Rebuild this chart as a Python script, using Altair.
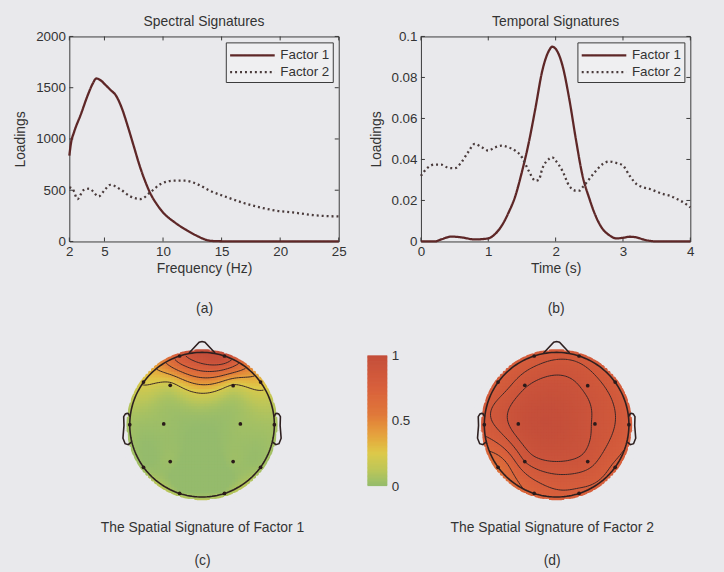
import numpy as np
import pandas as pd
import altair as alt

alt.data_transformers.disable_max_rows()

FONT = "Liberation Sans"
INK = "#333333"
FRAME = "#3a3a3a"
BG = "#e9e9ec"

# ---------------- spectral signatures ----------------
spec_freq_f1 = [2.0, 2.15, 2.4, 3.0, 3.55, 4.0, 4.3, 4.7, 5.0, 5.5, 6.0, 6.5, 7.0, 7.5,
                8.0, 8.5, 9.0, 9.5, 10.0, 11.0, 12.0, 13.0, 13.5, 14.0, 15.0, 17.0, 20.0, 25.0]
spec_load_f1 = [837, 965, 1065, 1245, 1420, 1540, 1590, 1570, 1537, 1480, 1420, 1295, 1120, 930,
                740, 580, 450, 358, 283, 186, 111, 49, 23, 7, 2, 1, 0, 0]
spec_freq_f2 = [2.0, 2.3, 2.7, 3.2, 3.7, 4.5, 5.0, 5.5, 6.4, 7.2, 8.1, 8.9, 9.8, 10.9,
                11.9, 12.9, 14.0, 15.5, 16.9, 18.3, 19.7, 21.1, 22.8, 25.0]
spec_load_f2 = [528, 510, 414, 500, 515, 440, 500, 553, 505, 440, 414, 479, 560, 593,
                593, 560, 495, 430, 375, 332, 300, 283, 257, 244]

# ---------------- temporal signatures ----------------
temp_time_f1 = [0.0, 0.2, 0.3, 0.45, 0.6, 0.8, 1.0, 1.1, 1.2, 1.3, 1.4, 1.5, 1.6, 1.7, 1.8,
                1.9, 1.95, 2.0, 2.1, 2.2, 2.3, 2.4, 2.5, 2.6, 2.7, 2.8, 2.9, 3.0, 3.1, 3.2,
                3.3, 3.4, 3.5, 4.0]
temp_load_f1 = [0.0, 0.0, 0.001, 0.0024, 0.002, 0.001, 0.0015, 0.0036, 0.0077, 0.014, 0.022,
                0.034, 0.048, 0.065, 0.083, 0.093, 0.095, 0.094, 0.086, 0.070, 0.050, 0.032,
                0.021, 0.012, 0.006, 0.003, 0.0015, 0.0018, 0.0023, 0.002, 0.001, 0.0003,
                0.0, 0.0]
temp_time_f2 = [0.0, 0.1, 0.2, 0.3, 0.4, 0.5, 0.6, 0.7, 0.8, 0.9, 1.0, 1.1, 1.2, 1.3, 1.4,
                1.5, 1.55, 1.6, 1.7, 1.75, 1.8, 1.9, 1.95, 2.0, 2.1, 2.2, 2.3, 2.35, 2.4,
                2.5, 2.6, 2.7, 2.8, 2.9, 3.0, 3.1, 3.2, 3.3, 3.4, 3.5, 3.6, 3.7, 3.8, 3.9, 4.0]
temp_load_f2 = [0.032, 0.036, 0.0375, 0.0375, 0.036, 0.0357, 0.0386, 0.0435, 0.0476, 0.046,
                0.0443, 0.0459, 0.0467, 0.0459, 0.0443, 0.041, 0.0378, 0.0345, 0.0296, 0.030,
                0.0353, 0.0402, 0.041, 0.0394, 0.0345, 0.0272, 0.0248, 0.0248, 0.0264, 0.0305,
                0.0345, 0.0378, 0.039, 0.0383, 0.037, 0.032, 0.028, 0.0264, 0.0256, 0.0243,
                0.0231, 0.0223, 0.0207, 0.019, 0.0166]

factor_names = ["Factor 1", "Factor 2"]
factor_colors = ["#5e2727", "#4a3b3b"]
factor_dashes = [[1, 0], [2, 3]]

spec_xticks = [2, 5, 10, 15, 20, 25]
spec_yticks = [0, 500, 1000, 1500, 2000]
temp_xticks = [0, 1, 2, 3, 4]
temp_yticks = [0, 0.02, 0.04, 0.06, 0.08, 0.1]

# ---------------- spatial signatures (16-channel 10-20 montage) ----------------
channels = ["Fp1", "Fp2", "F7", "F8", "F3", "F4", "T3", "T4",
            "C3", "C4", "T5", "T6", "P3", "P4", "O1", "O2"]
chan_x = [-0.31, 0.31, -0.81, 0.81, -0.44, 0.43, -1.0, 1.0,
          -0.53, 0.53, -0.81, 0.81, -0.44, 0.43, -0.31, 0.31]
chan_y = [0.95, 0.95, 0.59, 0.59, 0.545, 0.54, 0.0, 0.0,
          0.01, 0.01, -0.59, -0.59, -0.51, -0.51, -0.95, -0.95]
spatial_f1 = [0.8, 1.0, 0.24, 0.3, 0.17, 0.2, 0.05, 0.06,
              0.03, 0.04, 0.03, 0.04, 0.03, 0.03, 0.05, 0.05]
spatial_f2 = [0.80, 0.82, 0.79, 0.80, 0.90, 0.89, 0.82, 0.80,
              0.95, 0.90, 0.62, 0.76, 0.85, 0.88, 0.72, 0.76]
contour_levels_f1 = [0.22, 0.38, 0.54, 0.7, 0.86]
contour_levels_f2 = [0.7, 0.78, 0.85, 0.91]

# head outline pieces (unit head radius)
nose_x = [0.18, 0.04, 0.0, -0.04, -0.18]
nose_y = [0.9908, 1.14, 1.15, 1.14, 0.9908]
ear_x = [0.994, 1.02, 1.036, 1.0598, 1.0838, 1.08, 1.094, 1.064, 1.02, 0.978]
ear_y = [0.111, 0.155, 0.1566, 0.1492, 0.111, -0.011, -0.1864, -0.2626, -0.2768, -0.2398]

cmap_stops = [0.0, 0.12, 0.25, 0.4, 0.55, 0.75, 1.0]
cmap_colors = ["#95bb6c", "#bcc659", "#ddc94a", "#e5a03e", "#e0783a", "#d8603c", "#c44e3a"]
colorbar_ticks = [0, 0.5, 1]

# ---------------- layout (pixels) ----------------
LINE_W, LINE_H = 272, 207
K = 73.0                       # pixels per head radius
HEAD_TOP, HEAD_BOT, HEAD_CY = 335, 505, 425
A_LEFT = 68                    # left edge of the first plot area
HEAD1_CX, HEAD2_CX = 202, 560
CAP1_CX, CAP2_CX = 202, 555
CB_LEFT, CB_W, CB_TOP, CB_BOT = 369, 20, 355, 487
CB_LABELS = 23
SPACE_B = 40
HEAD1_RIGHT = CB_LEFT - SPACE_B
HEAD2_LEFT = CB_LEFT + CB_W + CB_LABELS + SPACE_B
HEAD2_RIGHT = 651
TICK_PX = 4

LABEL_FS = 13.5
TITLE_FS = 14

color_scale = alt.Scale(domain=cmap_stops, range=cmap_colors, clamp=True)


def line_panel(title, xs1, ys1, xs2, ys2, xticks, yticks, xtitle, caption, xfmt, yfmt):
    df = pd.concat([
        pd.DataFrame({"x": xs1, "y": ys1, "factor": factor_names[0]}),
        pd.DataFrame({"x": xs2, "y": ys2, "factor": factor_names[1]}),
    ], ignore_index=True)
    x0, x1 = xticks[0], xticks[-1]
    y0, y1 = yticks[0], yticks[-1]
    xsc = alt.Scale(domain=[x0, x1], nice=False, zero=False)
    ysc = alt.Scale(domain=[y0, y1], nice=False, zero=False)
    xaxis = alt.Axis(values=xticks, format=xfmt, title=[xtitle, caption], titlePadding=4,
                     titleLineHeight=40, labelPadding=3, ticks=False, domain=False, grid=False,
                     labelFlush=False)
    yaxis = alt.Axis(values=yticks, format=yfmt, title="Loadings", titlePadding=8,
                     labelPadding=4, ticks=False, domain=False, grid=False)

    # inward-pointing ticks on all four sides
    tx = (x1 - x0) * TICK_PX / LINE_W
    ty = (y1 - y0) * TICK_PX / LINE_H
    ticks = []
    for v in xticks:
        ticks.append((v, y0, v, y0 + ty))
        ticks.append((v, y1, v, y1 - ty))
    for v in yticks:
        ticks.append((x0, v, x0 + tx, v))
        ticks.append((x1, v, x1 - tx, v))
    tick_df = pd.DataFrame(ticks, columns=["x", "y", "xb", "yb"])
    tick_layer = alt.Chart(tick_df).mark_rule(color=FRAME, strokeWidth=1).encode(
        x=alt.X("x:Q", scale=xsc, axis=xaxis),
        y=alt.Y("y:Q", scale=ysc, axis=yaxis),
        x2="xb:Q", y2="yb:Q",
    )

    legend = alt.Legend(
        title=None, orient="top-right", offset=6, fillColor="#efeff1",
        strokeColor=FRAME, padding=3, symbolType="M-1,0H4.2", symbolSize=300,
        symbolStrokeWidth=2.3, labelFontSize=LABEL_FS, labelFont=FONT, labelColor=INK,
        rowPadding=0, labelOffset=32,
    )
    lines = alt.Chart(df).mark_line(strokeWidth=2.3, interpolate="monotone").encode(
        x=alt.X("x:Q", scale=xsc, axis=xaxis),
        y=alt.Y("y:Q", scale=ysc, axis=yaxis),
        color=alt.Color("factor:N", scale=alt.Scale(domain=factor_names, range=factor_colors),
                        legend=legend),
        strokeDash=alt.StrokeDash("factor:N",
                                  scale=alt.Scale(domain=factor_names, range=factor_dashes),
                                  legend=legend),
    )
    return alt.layer(tick_layer, lines).properties(
        width=LINE_W, height=LINE_H,
        title=alt.TitleParams(title, fontSize=TITLE_FS, fontWeight="normal", offset=1,
                              color=INK, font=FONT),
        view=alt.ViewBackground(stroke=FRAME, strokeWidth=1),
    )


def biharmonic(xe, ye, ve, xq, yq):
    pe = np.asarray(xe) + 1j * np.asarray(ye)
    d = np.abs(pe[:, None] - pe[None, :])
    g = np.where(d > 0, d ** 2 * (np.log(np.maximum(d, 1e-12)) - 1), 0.0)
    w = np.linalg.solve(g, np.asarray(ve, dtype=float))
    pq = np.asarray(xq) + 1j * np.asarray(yq)
    dq = np.abs(pq[:, None] - pe[None, :])
    gq = np.where(dq > 0, dq ** 2 * (np.log(np.maximum(dq, 1e-12)) - 1), 0.0)
    return gq @ w


def contour_segments(gx, gy, z, level):
    segs = []
    ny, nx = z.shape
    for i in range(ny - 1):
        for j in range(nx - 1):
            corners = [(gx[j], gy[i], z[i, j]), (gx[j + 1], gy[i], z[i, j + 1]),
                       (gx[j + 1], gy[i + 1], z[i + 1, j + 1]), (gx[j], gy[i + 1], z[i + 1, j])]
            pts = []
            for k in range(4):
                xa, ya, za = corners[k]
                xb, yb, zb = corners[(k + 1) % 4]
                if (za - level) * (zb - level) < 0:
                    t = (level - za) / (zb - za)
                    pts.append((xa + t * (xb - xa), ya + t * (yb - ya)))
            for a in range(0, len(pts) - 1, 2):
                segs.append((pts[a][0], pts[a][1], pts[a + 1][0], pts[a + 1][1]))
    return segs


def head_outline():
    th = np.linspace(0, 2 * np.pi, 181)
    parts = [pd.DataFrame({"x": np.cos(th), "y": np.sin(th), "part": "head"}),
             pd.DataFrame({"x": nose_x, "y": nose_y, "part": "nose"}),
             pd.DataFrame({"x": ear_x, "y": ear_y, "part": "ear_r"}),
             pd.DataFrame({"x": [-v for v in ear_x], "y": ear_y, "part": "ear_l"})]
    for p in parts:
        p["ord"] = np.arange(len(p))
    return pd.concat(parts, ignore_index=True)


def head_panel(values, levels, caption, letter, cx, cap_cx, left_px, right_px):
    xdom = [-(cx - left_px) / K, (right_px - cx) / K]
    ydom = [-(HEAD_BOT - HEAD_CY) / K, (HEAD_CY - HEAD_TOP) / K]
    xsc = alt.Scale(domain=xdom, nice=False, zero=False)
    ysc = alt.Scale(domain=ydom, nice=False, zero=False)
    xaxis = alt.Axis(labels=False, ticks=False, domain=False, grid=False,
                     title=[caption, letter], titleX=cap_cx - left_px, titleY=17,
                     titleAlign="center", titleBaseline="top", titleLineHeight=33,
                     titleFontSize=TITLE_FS)

    # interpolated surface, drawn as small cells
    step = 0.04
    g = np.arange(-1.08, 1.08 + 1e-9, step)
    gx, gy = np.meshgrid(g, g)
    gx, gy = gx.ravel(), gy.ravel()
    inside = gx ** 2 + gy ** 2 <= 1.045 ** 2
    gx, gy = gx[inside], gy[inside]
    v = np.clip(biharmonic(chan_x, chan_y, values, gx, gy), 0, 1)
    half = step / 2 + 0.006
    cells = pd.DataFrame({"x": gx - half, "xb": gx + half, "y": gy - half, "yb": gy + half,
                          "v": v})
    fill = alt.Chart(cells).mark_rect().encode(
        x=alt.X("x:Q", scale=xsc, axis=xaxis),
        x2="xb:Q",
        y=alt.Y("y:Q", scale=ysc, axis=None),
        y2="yb:Q",
        color=alt.Color("v:Q", scale=color_scale, legend=None),
    )

    # mask ring hiding the stepped rim of the cell grid
    th = np.linspace(0, 2 * np.pi, 181)
    ring = pd.DataFrame({"x": 1.1 * np.cos(th), "y": 1.1 * np.sin(th), "ord": np.arange(181)})
    mask = alt.Chart(ring).mark_line(color=BG, strokeWidth=8).encode(
        x=alt.X("x:Q", scale=xsc, axis=xaxis), y=alt.Y("y:Q", scale=ysc, axis=None),
        order="ord:Q")

    # contour lines
    cg = np.arange(-1.05, 1.05 + 1e-9, 0.025)
    cx_, cy_ = np.meshgrid(cg, cg)
    cz = biharmonic(chan_x, chan_y, values, cx_.ravel(), cy_.ravel()).reshape(cx_.shape)
    segs = []
    for lev in levels:
        segs += contour_segments(cg, cg, cz, lev)
    seg_df = pd.DataFrame(segs, columns=["x", "y", "xb", "yb"])
    seg_df = seg_df[(seg_df.x ** 2 + seg_df.y ** 2 <= 1.0) & (seg_df.xb ** 2 + seg_df.yb ** 2 <= 1.0)]
    contours = alt.Chart(seg_df).mark_rule(color="#3a2626", strokeWidth=1).encode(
        x=alt.X("x:Q", scale=xsc, axis=xaxis), y=alt.Y("y:Q", scale=ysc, axis=None),
        x2="xb:Q", y2="yb:Q")

    outline = alt.Chart(head_outline()).mark_line(color="#2e2020", strokeWidth=1.6).encode(
        x=alt.X("x:Q", scale=xsc, axis=xaxis), y=alt.Y("y:Q", scale=ysc, axis=None),
        detail="part:N", order="ord:Q")

    elec = pd.DataFrame({"x": chan_x, "y": chan_y, "ch": channels})
    dots = alt.Chart(elec).mark_circle(size=14, color="#2a1a1a", opacity=1).encode(
        x=alt.X("x:Q", scale=xsc, axis=xaxis), y=alt.Y("y:Q", scale=ysc, axis=None))

    return alt.layer(fill, mask, contours, outline, dots).properties(
        width=right_px - left_px, height=HEAD_BOT - HEAD_TOP)


def colorbar_panel():
    edges = np.linspace(0, 1, 101)
    cb = pd.DataFrame({"lo": edges[:-1], "hi": np.minimum(edges[1:] + 0.006, 1.0),
                       "mid": (edges[:-1] + edges[1:]) / 2})
    k = CB_BOT - CB_TOP
    ydom = [-(HEAD_BOT - CB_BOT) / k, 1 + (CB_TOP - HEAD_TOP) / k]
    return alt.Chart(cb).mark_rect().encode(
        y=alt.Y("lo:Q", scale=alt.Scale(domain=ydom, nice=False, zero=False),
                axis=alt.Axis(orient="right", values=colorbar_ticks, format="~g", title=None,
                              ticks=False, domain=False, grid=False, labelPadding=4)),
        y2="hi:Q",
        color=alt.Color("mid:Q", scale=color_scale, legend=None),
    ).properties(width=CB_W, height=HEAD_BOT - HEAD_TOP)


spectral = line_panel("Spectral Signatures", spec_freq_f1, spec_load_f1, spec_freq_f2,
                      spec_load_f2, spec_xticks, spec_yticks, "Frequency (Hz)", "(a)", "d", "d")
temporal = line_panel("Temporal Signatures", temp_time_f1, temp_load_f1, temp_time_f2,
                      temp_load_f2, temp_xticks, temp_yticks, "Time (s)", "(b)", "d", "~g")

head1 = head_panel(spatial_f1, contour_levels_f1, "The Spatial Signature of Factor 1", "(c)",
                   HEAD1_CX, CAP1_CX, A_LEFT, HEAD1_RIGHT)
head2 = head_panel(spatial_f2, contour_levels_f2, "The Spatial Signature of Factor 2", "(d)",
                   HEAD2_CX, CAP2_CX, HEAD2_LEFT, HEAD2_RIGHT)

indep = dict(x="independent", y="independent", color="independent", strokeDash="independent")
top_row = alt.hconcat(spectral, temporal, spacing=21).resolve_scale(**indep)
bottom_row = alt.hconcat(head1, colorbar_panel(), head2, spacing=SPACE_B).resolve_scale(**indep)

chart = alt.vconcat(top_row, bottom_row, spacing=13).resolve_scale(**indep).properties(
    padding={"left": 13, "top": 11, "right": 28, "bottom": 10},
).configure(
    background=BG, font=FONT,
).configure_view(
    strokeWidth=0,
).configure_axis(
    labelFont=FONT, titleFont=FONT, labelColor=INK, titleColor=INK,
    labelFontSize=LABEL_FS, titleFontSize=TITLE_FS, titleFontWeight="normal",
)

chart.save("out.html", embed_options={"renderer": "svg", "actions": False})
